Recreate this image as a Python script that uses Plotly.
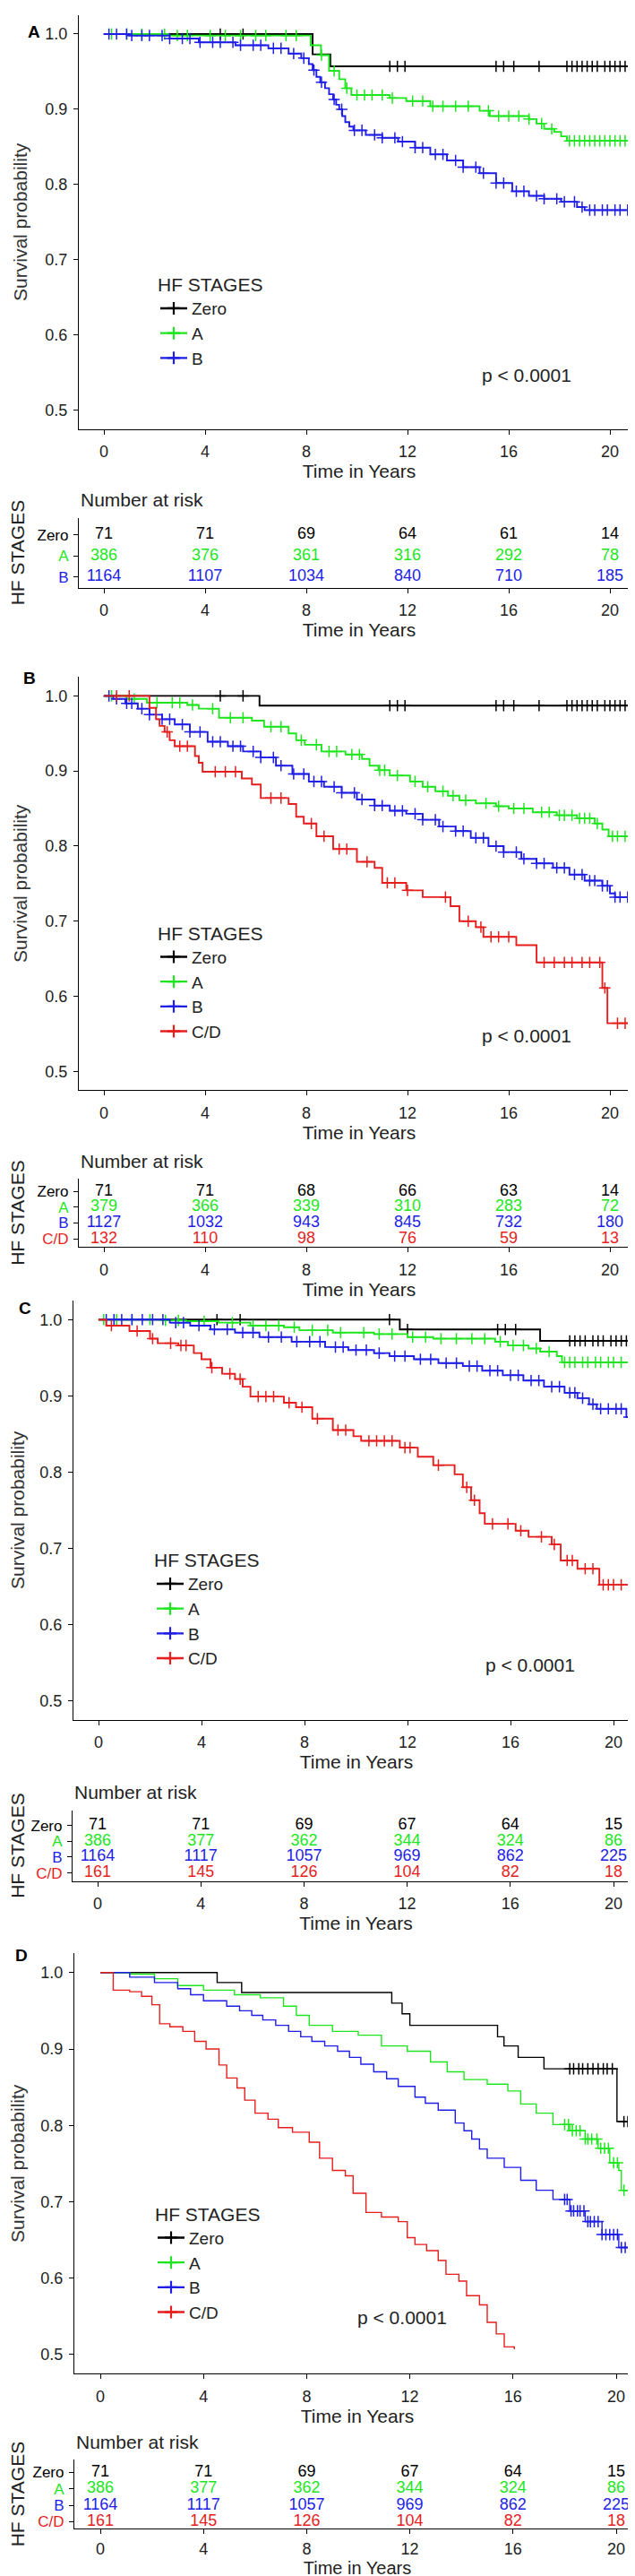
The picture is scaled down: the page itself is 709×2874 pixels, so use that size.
import numpy as np
import plotly.graph_objects as go

W, H = 709, 2874
FONT = "Liberation Sans, Arial, sans-serif"

# ---------------- data ----------------
X_TICKS = [0, 4, 8, 12, 16, 20]
Y_TICKS = [0.5, 0.6, 0.7, 0.8, 0.9, 1.0]
RISK_TIMES = [0, 4, 8, 12, 16, 20]
GROUPS = ["Zero", "A", "B", "C/D"]
COLORS = ["#000000", "#1ee61e", "#1e1ee6", "#e61e1e"]
P_TEXT = "p < 0.0001"

# Panel A
A_ZERO_T = [0, 8.25, 8.95, 20.9]
A_ZERO_S = [1.0, 0.973, 0.957, 0.957]
A_A_T = [0, 2.5, 8.17, 8.58, 8.9, 9.3, 9.54, 9.78, 11.3, 11.95, 12.9, 14.85, 15.25, 16.8, 17.1, 17.4, 17.8, 18.07, 18.3, 20.9]
A_A_S = [1.0, 0.998, 0.985, 0.972, 0.951, 0.940, 0.928, 0.919, 0.915, 0.911, 0.904, 0.898, 0.891, 0.887, 0.881, 0.874, 0.870, 0.864, 0.858, 0.858]
A_B_T = [0, 1.0, 2.6, 3.75, 5.2, 6.5, 7.3, 7.8, 8.1, 8.25, 8.4, 8.55, 8.74, 8.9, 9.06, 9.18, 9.3, 9.42, 9.54, 9.7, 9.86, 10.35, 11.0, 11.63, 12.3, 12.9, 13.56, 14.2, 14.85, 15.5, 16.14, 16.8, 17.4, 18.07, 18.7, 19.0, 20.9]
A_B_S = [1.0, 0.998, 0.994, 0.989, 0.985, 0.981, 0.974, 0.968, 0.960, 0.952, 0.943, 0.936, 0.928, 0.920, 0.913, 0.906, 0.900, 0.891, 0.883, 0.877, 0.872, 0.866, 0.862, 0.857, 0.849, 0.840, 0.832, 0.823, 0.815, 0.802, 0.791, 0.785, 0.781, 0.777, 0.770, 0.766, 0.766]
A_ZERO_C = [4.6, 5.5, 11.3, 11.6, 11.9, 15.5, 15.8, 16.2, 17.2, 18.3, 18.5, 18.7, 18.9, 19.1, 19.3, 19.5, 19.8, 20.0, 20.2, 20.4, 20.6, 20.8]
A_A_C = [0.3, 0.9, 1.5, 2.4, 2.9, 3.3, 4.2, 4.8, 5.4, 6.0, 6.4, 7.2, 7.6, 8.6, 9.1, 9.6, 10.0, 10.3, 10.6, 11.0, 11.4, 12.2, 12.6, 13.0, 13.4, 13.9, 14.4, 15.2, 15.6, 16.0, 16.4, 16.8, 17.3, 17.7, 18.4, 18.6, 18.8, 19.0, 19.2, 19.4, 19.6, 19.8, 20.0, 20.2, 20.4, 20.6, 20.8]
A_B_C = [0.2, 0.5, 0.9, 1.1, 1.5, 1.8, 2.3, 2.6, 3.1, 3.4, 3.8, 4.3, 4.6, 5.1, 5.4, 5.9, 6.2, 6.7, 7.0, 7.5, 7.9, 8.3, 8.6, 9.1, 9.4, 9.9, 10.2, 10.7, 11.0, 11.5, 11.8, 12.3, 12.6, 13.1, 13.4, 13.9, 14.2, 14.7, 15.0, 15.5, 15.8, 16.3, 16.6, 17.1, 17.4, 17.9, 18.2, 18.6, 18.9, 19.2, 19.4, 19.7, 19.9, 20.2, 20.4, 20.7, 20.9]

# Panel B
B_ZERO_T = [0, 6.15, 20.9]
B_ZERO_S = [1.0, 0.987, 0.987]
B_A_T = [0, 0.9, 1.7, 3.3, 3.75, 4.55, 5.85, 6.33, 7.3, 7.6, 7.94, 8.6, 9.55, 10.2, 10.5, 10.85, 11.3, 12.1, 12.6, 13.1, 13.6, 14.05, 14.7, 15.5, 16.0, 16.95, 17.9, 18.7, 19.4, 19.7, 19.95, 20.9]
B_A_S = [1.0, 0.996, 0.991, 0.988, 0.983, 0.971, 0.967, 0.959, 0.950, 0.941, 0.935, 0.926, 0.922, 0.916, 0.907, 0.901, 0.894, 0.886, 0.879, 0.873, 0.867, 0.861, 0.857, 0.853, 0.850, 0.845, 0.841, 0.837, 0.830, 0.822, 0.813, 0.813]
B_B_T = [0, 0.37, 0.85, 1.34, 1.8, 2.3, 2.8, 3.4, 4.1, 4.9, 5.5, 6.2, 6.8, 7.45, 8.1, 8.7, 9.4, 10.0, 10.7, 11.3, 11.95, 12.6, 13.25, 13.9, 14.5, 15.2, 15.8, 16.5, 17.1, 17.75, 18.4, 19.0, 19.7, 20.0, 20.2, 20.9]
B_B_S = [1.0, 0.996, 0.990, 0.983, 0.975, 0.969, 0.962, 0.952, 0.939, 0.933, 0.926, 0.918, 0.907, 0.896, 0.886, 0.879, 0.871, 0.862, 0.854, 0.847, 0.843, 0.835, 0.826, 0.820, 0.811, 0.800, 0.792, 0.783, 0.777, 0.771, 0.762, 0.754, 0.747, 0.737, 0.732, 0.732]
B_CD_T = [0, 1.8, 2.06, 2.2, 2.4, 2.6, 2.8, 3.6, 3.75, 3.9, 5.45, 5.85, 6.2, 7.3, 7.6, 7.9, 8.4, 9.06, 10.0, 10.7, 11.0, 11.95, 12.6, 13.7, 14.05, 14.7, 15.0, 16.3, 17.1, 19.7, 19.9, 20.9]
B_CD_S = [1.0, 0.984, 0.969, 0.960, 0.952, 0.941, 0.933, 0.920, 0.911, 0.899, 0.890, 0.882, 0.864, 0.856, 0.839, 0.830, 0.813, 0.796, 0.779, 0.771, 0.751, 0.741, 0.732, 0.720, 0.700, 0.692, 0.679, 0.668, 0.645, 0.611, 0.564, 0.564]
B_ZERO_C = [4.6, 5.5, 11.3, 11.6, 11.9, 15.5, 15.8, 16.2, 17.2, 18.3, 18.5, 18.7, 18.9, 19.1, 19.3, 19.5, 19.8, 20.0, 20.2, 20.4, 20.6, 20.8]
B_A_C = [0.3, 1.2, 2.1, 2.7, 3.0, 3.5, 4.3, 5.0, 5.5, 6.6, 7.0, 7.8, 8.4, 8.9, 9.2, 9.8, 10.1, 10.9, 11.1, 11.6, 12.3, 12.8, 13.4, 13.8, 14.3, 15.1, 15.6, 16.2, 16.6, 17.3, 17.6, 18.0, 18.2, 18.5, 18.8, 19.0, 19.2, 19.5, 20.1, 20.3, 20.6, 20.8]
B_B_C = A_B_C
B_CD_C = [0.5, 1.0, 2.5, 3.0, 3.3, 4.4, 4.8, 5.2, 6.6, 7.0, 8.2, 8.7, 9.3, 9.6, 10.4, 11.2, 11.5, 12.0, 13.5, 14.4, 14.9, 15.3, 15.6, 16.0, 17.4, 17.8, 18.2, 18.5, 18.9, 19.2, 19.6, 19.8, 20.3, 20.6, 20.8]

# Panel C
C_ZERO_T = [0, 11.7, 17.15, 20.9]
C_ZERO_S = [1.0, 0.987, 0.972, 0.972]
C_A_T = [0, 2.5, 3.4, 4.66, 5.9, 7.2, 7.8, 9.1, 10.7, 12.0, 13.0, 15.4, 15.9, 16.7, 17.15, 17.8, 18.0, 20.9]
C_A_S = [1.0, 0.999, 0.998, 0.996, 0.992, 0.990, 0.986, 0.983, 0.981, 0.977, 0.975, 0.971, 0.966, 0.962, 0.958, 0.952, 0.944, 0.944]
C_B_T = [0, 2.77, 3.56, 4.35, 5.3, 6.25, 7.5, 8.8, 9.7, 10.7, 11.3, 12.25, 13.2, 14.15, 14.9, 15.7, 16.5, 17.3, 18.1, 18.6, 19.05, 19.35, 20.5, 20.9]
C_B_S = [1.0, 0.996, 0.992, 0.987, 0.983, 0.977, 0.971, 0.964, 0.960, 0.956, 0.952, 0.948, 0.943, 0.939, 0.933, 0.927, 0.920, 0.912, 0.904, 0.897, 0.889, 0.883, 0.872, 0.872]
C_CD_T = [0, 0.3, 1.2, 2.0, 2.3, 3.1, 3.7, 4.0, 4.35, 4.8, 5.3, 5.6, 5.9, 7.2, 7.67, 8.3, 9.1, 9.9, 10.2, 11.7, 12.4, 13.0, 13.83, 14.15, 14.47, 14.8, 15.0, 16.2, 16.7, 17.6, 17.95, 18.6, 19.45, 20.9]
C_CD_S = [1.0, 0.992, 0.985, 0.975, 0.969, 0.966, 0.956, 0.948, 0.937, 0.929, 0.922, 0.912, 0.899, 0.891, 0.885, 0.870, 0.855, 0.847, 0.841, 0.832, 0.820, 0.809, 0.797, 0.780, 0.763, 0.746, 0.732, 0.723, 0.715, 0.705, 0.684, 0.673, 0.652, 0.652]
C_ZERO_C = [4.6, 5.5, 11.3, 12.0, 15.5, 15.8, 16.2, 18.3, 18.5, 18.7, 18.9, 19.2, 19.4, 19.6, 19.9, 20.1, 20.3, 20.5, 20.7]
C_A_C = [0.2, 0.7, 1.3, 2.0, 2.6, 3.1, 4.1, 5.2, 6.0, 6.5, 7.0, 7.6, 8.3, 8.9, 9.4, 10.3, 10.9, 11.4, 12.2, 12.7, 13.3, 13.9, 14.5, 15.0, 15.6, 16.1, 16.5, 17.0, 17.5, 18.1, 18.3, 18.5, 18.8, 19.0, 19.3, 19.5, 19.8, 20.0, 20.3, 20.6, 20.8]
C_B_C = [0.3, 0.6, 0.9, 1.3, 1.7, 2.1, 2.5, 3.0, 3.3, 3.9, 4.5, 5.0, 5.6, 6.0, 6.6, 7.1, 7.7, 8.2, 8.6, 9.2, 9.5, 10.0, 10.4, 10.9, 11.5, 11.9, 12.5, 12.9, 13.5, 13.9, 14.4, 14.7, 15.2, 15.5, 16.0, 16.3, 16.8, 17.1, 17.6, 17.9, 18.3, 18.5, 18.8, 19.2, 19.5, 19.8, 20.1, 20.3, 20.6]
C_CD_C = [0.5, 1.5, 2.1, 2.8, 3.2, 3.4, 4.4, 5.1, 5.5, 6.2, 6.5, 6.8, 7.4, 7.9, 8.5, 9.3, 9.6, 10.5, 10.8, 11.1, 11.4, 11.9, 12.1, 13.2, 14.3, 14.6, 15.3, 15.9, 16.4, 17.2, 17.7, 18.2, 18.4, 18.9, 19.2, 19.6, 19.8, 20.0, 20.3, 20.6]

# Panel D
D_ZERO_T = [0, 4.53, 5.48, 11.3, 11.7, 12.0, 15.4, 15.65, 16.2, 17.2, 20.03, 20.8]
D_ZERO_S = [1.0, 0.987, 0.974, 0.960, 0.946, 0.931, 0.916, 0.904, 0.889, 0.874, 0.805, 0.805]
D_A_T = [0, 1.14, 2.1, 3.0, 4.0, 5.2, 6.2, 7.1, 7.6, 8.1, 9.0, 10.0, 10.9, 11.9, 12.8, 13.45, 14.1, 15.0, 15.8, 16.3, 16.9, 17.55, 18.2, 18.8, 19.3, 19.75, 20.1, 20.2, 20.8]
D_A_S = [1.0, 0.998, 0.992, 0.983, 0.977, 0.971, 0.967, 0.956, 0.944, 0.931, 0.923, 0.918, 0.904, 0.897, 0.883, 0.870, 0.860, 0.854, 0.845, 0.828, 0.816, 0.801, 0.793, 0.782, 0.770, 0.751, 0.741, 0.715, 0.715]
D_B_T = [0, 1.14, 2.1, 3.0, 3.5, 4.0, 4.9, 5.4, 5.87, 6.3, 6.8, 7.3, 7.77, 8.2, 8.7, 9.2, 9.66, 10.1, 10.6, 11.1, 11.55, 12.2, 12.6, 13.1, 13.76, 14.1, 14.4, 14.7, 15.0, 15.66, 16.3, 16.9, 17.55, 18.2, 18.8, 19.45, 20.1, 20.7]
D_B_S = [1.0, 0.994, 0.987, 0.979, 0.971, 0.963, 0.956, 0.950, 0.944, 0.938, 0.931, 0.923, 0.916, 0.910, 0.904, 0.897, 0.889, 0.880, 0.870, 0.861, 0.851, 0.837, 0.829, 0.820, 0.803, 0.793, 0.782, 0.769, 0.757, 0.745, 0.728, 0.715, 0.703, 0.688, 0.674, 0.657, 0.640, 0.619]
D_CD_T = [0, 0.5, 1.14, 1.6, 2.0, 2.3, 2.7, 3.2, 3.66, 4.1, 4.6, 4.9, 5.3, 5.6, 6.0, 6.5, 6.9, 7.45, 8.1, 8.5, 9.0, 9.5, 9.8, 10.3, 10.9, 11.55, 11.9, 12.2, 12.65, 13.1, 13.4, 13.9, 14.2, 14.7, 15.0, 15.35, 15.66, 16.05]
D_CD_S = [1.0, 0.977, 0.975, 0.969, 0.958, 0.933, 0.929, 0.923, 0.910, 0.900, 0.879, 0.862, 0.849, 0.833, 0.816, 0.808, 0.797, 0.791, 0.778, 0.757, 0.741, 0.734, 0.711, 0.686, 0.680, 0.674, 0.653, 0.644, 0.636, 0.623, 0.605, 0.596, 0.577, 0.565, 0.542, 0.527, 0.510, 0.507]
D_ZERO_C = [18.2, 18.35, 18.55, 18.7, 18.9, 19.1, 19.3, 19.5, 19.65, 19.85, 20.3, 20.45, 20.6, 20.75]
D_A_C = [18.0, 18.15, 18.3, 18.45, 18.6, 18.8, 18.9, 19.05, 19.25, 19.4, 19.55, 19.7, 19.9, 20.05, 20.3, 20.5, 20.7]
D_B_C = [18.0, 18.1, 18.25, 18.35, 18.5, 18.6, 18.75, 18.9, 19.0, 19.15, 19.3, 19.45, 19.6, 19.75, 19.9, 20.05, 20.2, 20.35, 20.5, 20.65, 20.8]
D_CD_C = []

# Numbers at risk
RISK_A_ZERO = [71, 71, 69, 64, 61, 14]
RISK_A_A = [386, 376, 361, 316, 292, 78]
RISK_A_B = [1164, 1107, 1034, 840, 710, 185]
RISK_B_ZERO = [71, 71, 68, 66, 63, 14]
RISK_B_A = [379, 366, 339, 310, 283, 72]
RISK_B_B = [1127, 1032, 943, 845, 732, 180]
RISK_B_CD = [132, 110, 98, 76, 59, 13]
RISK_C_ZERO = [71, 71, 69, 67, 64, 15]
RISK_C_A = [386, 377, 362, 344, 324, 86]
RISK_C_B = [1164, 1117, 1057, 969, 862, 225]
RISK_C_CD = [161, 145, 126, 104, 82, 18]
RISK_D_ZERO = [71, 71, 69, 67, 64, 15]
RISK_D_A = [386, 377, 362, 344, 324, 86]
RISK_D_B = [1164, 1117, 1057, 969, 862, 225]
RISK_D_CD = [161, 145, 126, 104, 82, 18]

PANEL_DATA = [
    dict(label="A",
         curves=[(A_ZERO_T, A_ZERO_S, A_ZERO_C), (A_A_T, A_A_S, A_A_C), (A_B_T, A_B_S, A_B_C)],
         risk=[RISK_A_ZERO, RISK_A_A, RISK_A_B]),
    dict(label="B",
         curves=[(B_ZERO_T, B_ZERO_S, B_ZERO_C), (B_A_T, B_A_S, B_A_C), (B_B_T, B_B_S, B_B_C), (B_CD_T, B_CD_S, B_CD_C)],
         risk=[RISK_B_ZERO, RISK_B_A, RISK_B_B, RISK_B_CD]),
    dict(label="C",
         curves=[(C_ZERO_T, C_ZERO_S, C_ZERO_C), (C_A_T, C_A_S, C_A_C), (C_B_T, C_B_S, C_B_C), (C_CD_T, C_CD_S, C_CD_C)],
         risk=[RISK_C_ZERO, RISK_C_A, RISK_C_B, RISK_C_CD]),
    dict(label="D",
         curves=[(D_ZERO_T, D_ZERO_S, D_ZERO_C), (D_A_T, D_A_S, D_A_C), (D_B_T, D_B_S, D_B_C), (D_CD_T, D_CD_S, D_CD_C)],
         risk=[RISK_D_ZERO, RISK_D_A, RISK_D_B, RISK_D_CD]),
]

# ---------------- layout (pixel positions) ----------------
LAYOUT = [
    dict(lab=(30, 28), xl=80, x0=108, x20=673, xr=706, yt=9, yb=471, p=(16.7, 0.547), leg=(166, 290),
         nar=550, r0=589, sp=23.5, rt=570, rb=648, rxl=80, rx0=108, rx20=673, rstand=4, rtls=4, rtfs=21),
    dict(lab=(25, 749), xl=80, x0=108, x20=673, xr=706, yt=748, yb=1209, p=(16.7, 0.547), leg=(166, 1014),
         nar=1288, r0=1322, sp=17.7, rt=1308, rb=1384, rxl=80, rx0=108, rx20=673, rstand=4, rtls=4, rtfs=21),
    dict(lab=(20, 1453), xl=74, x0=102, x20=677, xr=706, yt=1444, yb=1912, p=(16.75, 0.547), leg=(162, 1714),
         nar=1993, r0=2030, sp=17.7, rt=2013, rb=2092, rxl=73, rx0=101, rx20=677, rstand=3, rtls=4, rtfs=21),
    dict(lab=(16, 2175), xl=75, x0=104, x20=680, xr=707, yt=2173, yb=2642, p=(11.7, 0.548), leg=(163, 2444),
         nar=2718, r0=2752, sp=18.5, rt=2738, rb=2815, rxl=75, rx0=104, rx20=680, rstand=2, rtls=1, rtfs=20),
]

TICKFONT = dict(family=FONT, size=18, color="#222")
TITLEFONT = dict(family=FONT, size=21, color="#222")
AXIS_COMMON = dict(showline=True, linecolor="black", linewidth=1.2, ticks="outside", ticklen=5,
                   tickcolor="black", tickwidth=1.2, showgrid=False, zeroline=False, tickfont=TICKFONT)


def step_value(t, s, x):
    i = np.searchsorted(np.asarray(t), x, side="right") - 1
    return float(np.asarray(s)[max(i, 0)])


fig = go.Figure()
annotations = []
layout_upd = {}

for p, (pdata, L) in enumerate(zip(PANEL_DATA, LAYOUT)):
    km, kr = 2 * p + 1, 2 * p + 2
    xm = "x" if km == 1 else f"x{km}"
    ym = "y" if km == 1 else f"y{km}"
    xr_, yr_ = f"x{kr}", f"y{kr}"
    legname = "legend" if p == 0 else f"legend{p + 1}"
    n = len(pdata["curves"])
    thin = p == 3
    lw = 1.4 if thin else 1.9

    for g, (t, s, c) in enumerate(pdata["curves"]):
        col = COLORS[g]
        fig.add_trace(go.Scatter(x=t, y=s, mode="lines", line=dict(color=col, width=lw, shape="hv"),
                                 xaxis=xm, yaxis=ym, showlegend=False, hoverinfo="skip"))
        if c:
            cy = [step_value(t, s, v) for v in c]
            fig.add_trace(go.Scatter(x=c, y=cy, mode="markers",
                                     marker=dict(symbol="cross-thin", size=9, color=col,
                                                 line=dict(color=col, width=1.5)),
                                     xaxis=xm, yaxis=ym, showlegend=False, hoverinfo="skip"))
        # legend entry
        fig.add_trace(go.Scatter(x=[None], y=[None], mode="lines+markers", name=GROUPS[g],
                                 line=dict(color=col, width=2.4),
                                 marker=dict(symbol="cross-thin", size=10, color=col,
                                             line=dict(color=col, width=2.2)),
                                 xaxis=xm, yaxis=ym, legend=legname, showlegend=True))
        # risk table row
        fig.add_trace(go.Scatter(x=RISK_TIMES, y=[n - g] * len(RISK_TIMES), mode="text",
                                 text=[str(v) for v in pdata["risk"][g]],
                                 textfont=dict(family=FONT, size=18, color=col),
                                 xaxis=xr_, yaxis=yr_, showlegend=False, hoverinfo="skip"))

    # main axes
    ppy = (L["x20"] - L["x0"]) / 20.0
    xrange = [(L["xl"] - L["x0"]) / ppy, (L["xr"] - L["x0"]) / ppy]
    layout_upd["xaxis" if km == 1 else f"xaxis{km}"] = dict(
        AXIS_COMMON, domain=[L["xl"] / W, L["xr"] / W], range=xrange, anchor=ym,
        tickvals=X_TICKS, ticklabelstandoff=4,
        title=dict(text="Time in Years", font=TITLEFONT, standoff=3))
    layout_upd["yaxis" if km == 1 else f"yaxis{km}"] = dict(
        AXIS_COMMON, domain=[1 - L["yb"] / H, 1 - L["yt"] / H], range=[0.475, 1.025], anchor=xm,
        tickvals=Y_TICKS, tickformat=".1f", ticklabelstandoff=3,
        title=dict(text="Survival probability", font=dict(family=FONT, size=21, color="#333"), standoff=13))

    # risk axes
    rppy = (L["rx20"] - L["rx0"]) / 20.0
    rxrange = [(L["rxl"] - L["rx0"]) / rppy, (L["xr"] - L["rx0"]) / rppy]
    ytop = n - (L["rt"] - L["r0"]) / L["sp"]
    ybot = n - (L["rb"] - L["r0"]) / L["sp"]
    layout_upd[f"xaxis{kr}"] = dict(
        AXIS_COMMON, domain=[L["rxl"] / W, L["xr"] / W], range=rxrange, anchor=yr_,
        tickvals=X_TICKS, ticklabelstandoff=L["rtls"],
        title=dict(text="Time in Years", font=dict(family=FONT, size=L["rtfs"], color="#222"),
                   standoff=L["rstand"]))
    layout_upd[f"yaxis{kr}"] = dict(
        AXIS_COMMON, domain=[1 - L["rb"] / H, 1 - L["rt"] / H], range=[ybot, ytop], anchor=xr_,
        tickvals=[n - g for g in range(n)],
        ticktext=[f'<span style="color:{COLORS[g]}">{GROUPS[g]}</span>' for g in range(n)],
        tickfont=dict(family=FONT, size=17), ticklabelstandoff=2,
        title=dict(text="HF STAGES", font=TITLEFONT, standoff=8))

    # legend
    layout_upd[legname] = dict(
        x=L["leg"][0] / W, y=1 - L["leg"][1] / H, xanchor="left", yanchor="top",
        bgcolor="rgba(0,0,0,0)", font=dict(family=FONT, size=19, color="#222"),
        title=dict(text="HF STAGES", font=dict(family=FONT, size=21, color="#222")),
        itemwidth=30, tracegroupgap=0)

    # annotations
    annotations.append(dict(text=f"<b>{pdata['label']}</b>", x=L["lab"][0] / W, y=1 - L["lab"][1] / H,
                            xref="paper", yref="paper", showarrow=False, xanchor="center", yanchor="middle",
                            font=dict(family=FONT, size=19, color="black")))
    annotations.append(dict(text=P_TEXT, x=L["p"][0], y=L["p"][1], xref=xm, yref=ym, showarrow=False,
                            xanchor="center", yanchor="middle", font=dict(family=FONT, size=21, color="#222")))
    annotations.append(dict(text="Number at risk", x=L["rxl"] / W, y=1 - L["nar"] / H, xref="paper", yref="paper",
                            showarrow=False, xanchor="left", yanchor="middle",
                            font=dict(family=FONT, size=21, color="#222")))

fig.update_layout(width=W, height=H, autosize=False, margin=dict(l=0, r=0, t=0, b=0),
                  paper_bgcolor="white", plot_bgcolor="white", showlegend=True,
                  annotations=annotations, font=dict(family=FONT), **layout_upd)

fig.write_html("out.html")
